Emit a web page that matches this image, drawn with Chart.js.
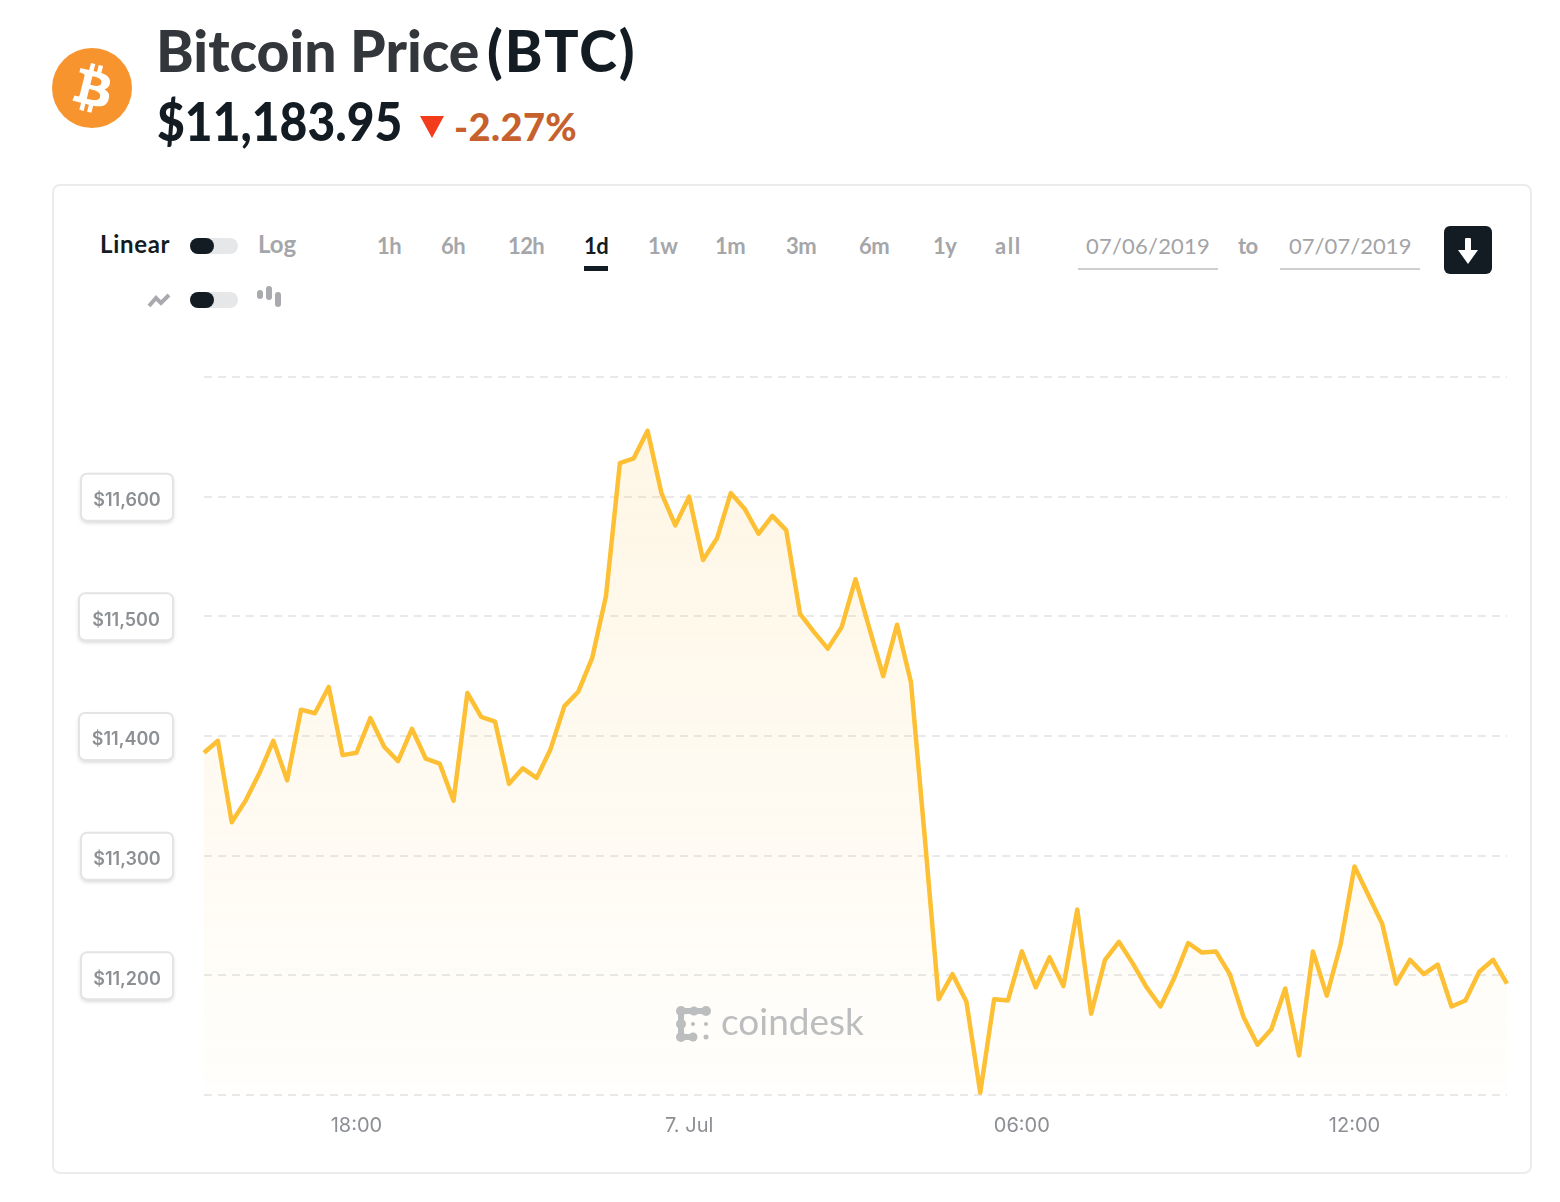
<!DOCTYPE html>
<html>
<head>
<meta charset="utf-8">
<title>Bitcoin Price (BTC)</title>
<script src="https://cdn.jsdelivr.net/npm/chart.js@4"></script>
<style>
    html, body { margin: 0; padding: 0; background: #fff; }
    body { width: 1560px; height: 1202px; position: relative; overflow: hidden; font-family: Lato, "Open Sans", sans-serif; color: #131c23; }
    .abs { position: absolute; white-space: nowrap; line-height: 1; }
    .card { position: absolute; left: 52px; top: 184px; width: 1480px; height: 990px; border: 2px solid #ececec; border-radius: 8px; box-sizing: border-box; }
    .toggle { position: absolute; width: 48px; height: 16px; border-radius: 8px; background: #e6e7e9; }
    .toggle::before { content: ''; position: absolute; left: 0; top: 0; width: 24px; height: 16px; border-radius: 8px; background: #131c23; }
    .range { font-size: 22px; font-weight: 700; color: #a5a6a9; top: 235px; letter-spacing: -0.6px; }
    .date { font-size: 22px; color: #a3a4a7; top: 235px; letter-spacing: 0.2px; }
    .rule { position: absolute; top: 268px; width: 140px; height: 2px; background: #cfcfcf; }
    #chartBox { position: absolute; left: 60px; top: 340px; width: 1460px; height: 820px; }
</style>
</head>
<body>
    <svg class="abs" style="left:52px;top:48px" width="80" height="80" viewBox="0 0 32 32">
        <circle cx="16" cy="16" r="16" fill="#f7942e"/>
        <path fill="#fff" d="M23.189 14.02c.314-2.096-1.283-3.223-3.465-3.975l.708-2.84-1.728-.43-.69 2.765c-.454-.114-.92-.22-1.385-.326l.695-2.783L15.596 6l-.708 2.839c-.376-.086-.746-.17-1.104-.26l.002-.009-2.384-.595-.46 1.846s1.283.294 1.256.312c.7.175.826.638.805 1.006l-.806 3.235c.048.012.11.03.18.057l-.183-.045-1.13 4.532c-.086.212-.303.531-.793.41.018.025-1.256-.313-1.256-.313l-.858 1.978 2.25.561c.418.105.828.215 1.231.318l-.715 2.872 1.727.43.708-2.84c.472.127.93.245 1.378.357l-.706 2.828 1.728.43.715-2.866c2.948.558 5.164.333 6.097-2.333.752-2.146-.037-3.385-1.588-4.192 1.13-.26 1.98-1.003 2.207-2.538zm-3.95 5.538c-.533 2.147-4.148.986-5.32.695l.95-3.805c1.172.293 4.929.872 4.37 3.11zm.535-5.569c-.487 1.953-3.495.96-4.47.717l.86-3.45c.975.243 4.118.696 3.61 2.733z"/>
    </svg>
    <div class="abs" style="left:156px;top:22px;font-size:57px;font-weight:900;color:#33363a">Bitcoin Price</div>
    <div class="abs" style="left:487px;top:22px;font-size:57px;font-weight:900;color:#131c23;letter-spacing:1.9px">(BTC)</div>
    <div class="abs" style="left:157px;top:94px;font-size:53px;font-weight:900;color:#131c23;transform:scaleX(0.905);transform-origin:left">$11,183.95</div>
    <svg class="abs" style="left:420px;top:116px" width="24" height="22"><polygon points="0,0 24,0 12,22" fill="#f33c1c"/></svg>
    <div class="abs" style="left:454px;top:107px;font-size:38px;font-weight:900;color:#c6602d;letter-spacing:0.4px">-2.27%</div>

    <div class="card"></div>

    <div class="abs" style="left:100px;top:232px;font-size:24px;font-weight:700;color:#131c23;letter-spacing:0.7px">Linear</div>
    <div class="toggle" style="left:190px;top:238px"></div>
    <div class="abs" style="left:258px;top:232px;font-size:24px;font-weight:700;color:#a5a6a9">Log</div>
    <svg class="abs" style="left:147px;top:292px" width="24" height="16" viewBox="0 0 24 16"><polyline points="2,14 9,6 14,11 22,3" fill="none" stroke="#a9aaad" stroke-width="4"/></svg>
    <div class="toggle" style="left:190px;top:292px"></div>
    <svg class="abs" style="left:257px;top:285px" width="24" height="22" viewBox="0 0 24 22" fill="#a9aaad">
        <rect x="0" y="5" width="6" height="9" rx="3"/><rect x="9" y="1" width="6" height="14" rx="3"/><rect x="18" y="7" width="6" height="15" rx="3"/>
    </svg>

    <div class="abs range" style="left:377px">1h</div>
    <div class="abs range" style="left:441px">6h</div>
    <div class="abs range" style="left:508px">12h</div>
    <div class="abs range" style="left:584px;color:#131c23">1d</div>
    <div class="abs" style="left:584px;top:266px;width:24px;height:5px;background:#131c23"></div>
    <div class="abs range" style="left:648px">1w</div>
    <div class="abs range" style="left:715px">1m</div>
    <div class="abs range" style="left:786px">3m</div>
    <div class="abs range" style="left:859px">6m</div>
    <div class="abs range" style="left:933px">1y</div>
    <div class="abs range" style="left:995px;letter-spacing:1.6px">all</div>
    <div class="abs date" style="left:1086px">07/06/2019</div>
    <div class="rule" style="left:1078px"></div>
    <div class="abs range" style="left:1238px">to</div>
    <div class="abs date" style="left:1289px;letter-spacing:0.05px">07/07/2019</div>
    <div class="rule" style="left:1280px"></div>
    <div class="abs" style="left:1444px;top:226px;width:48px;height:48px;border-radius:6px;background:#131c23"></div>
    <svg class="abs" style="left:1456px;top:238px" width="24" height="26" viewBox="0 0 24 26"><path fill="#fff" d="M9 2 a3 3 0 0 1 6 0 V12 H22 L12 26 L2 12 H9 Z"/></svg>

    <div id="chartBox"><canvas id="chartPrecio"></canvas></div>

    <svg class="abs" style="left:675px;top:1005px" width="38" height="38" viewBox="0 0 38 38" fill="#bcbdbe">
        <circle cx="6" cy="6" r="5"/><circle cx="19" cy="6" r="4.5"/><circle cx="31" cy="6" r="5"/>
        <circle cx="6" cy="19" r="5"/><circle cx="6" cy="32" r="5"/><circle cx="18" cy="32" r="4.5"/>
        <rect x="6" y="3" width="25" height="6"/><rect x="3" y="6" width="6" height="26"/><rect x="6" y="29" width="12" height="6"/>
        <circle cx="18" cy="19" r="2"/><circle cx="31" cy="19" r="2"/><circle cx="31" cy="32" r="2.5"/>
    </svg>
    <div class="abs" style="left:721px;top:1002px;font-size:37px;color:#bcbdbe">coindesk</div>

<script>
// cada 15 minutos, desde las 15:15 del 6 de julio
const categorias = [
    '15:15', '15:30', '15:45',
    '16:00', '16:15', '16:30', '16:45', '17:00', '17:15', '17:30', '17:45',
    '18:00', '18:15', '18:30', '18:45', '19:00', '19:15', '19:30', '19:45',
    '20:00', '20:15', '20:30', '20:45', '21:00', '21:15', '21:30', '21:45',
    '22:00', '22:15', '22:30', '22:45', '23:00', '23:15', '23:30', '23:45',
    '7. Jul', '00:15', '00:30', '00:45', '01:00', '01:15', '01:30', '01:45',
    '02:00', '02:15', '02:30', '02:45', '03:00', '03:15', '03:30', '03:45',
    '04:00', '04:15', '04:30', '04:45', '05:00', '05:15', '05:30', '05:45',
    '06:00', '06:15', '06:30', '06:45', '07:00', '07:15', '07:30', '07:45',
    '08:00', '08:15', '08:30', '08:45', '09:00', '09:15', '09:30', '09:45',
    '10:00', '10:15', '10:30', '10:45', '11:00', '11:15', '11:30', '11:45',
    '12:00', '12:15', '12:30', '12:45', '13:00', '13:15', '13:30', '13:45',
    '14:00', '14:15', '14:30', '14:45'
];
const precios = [
    11386, 11396, 11328, 11346, 11369, 11396, 11363, 11422, 11419, 11441,
    11384, 11386, 11415, 11391, 11379, 11406, 11381, 11377, 11346, 11436,
    11416, 11412, 11360, 11373, 11365, 11389, 11425, 11437, 11465, 11517,
    11628, 11632, 11655, 11603, 11576, 11600, 11547, 11565, 11603, 11590,
    11569, 11584, 11572, 11502, 11487, 11473, 11491, 11531, 11490, 11450,
    11493, 11445, 11315, 11180, 11201, 11178, 11102, 11180, 11179, 11220,
    11190, 11215, 11191, 11255, 11168, 11213, 11228, 11210, 11190, 11174,
    11198, 11227, 11219, 11220, 11201, 11165, 11142, 11155, 11189, 11133,
    11220, 11183, 11226, 11291, 11267, 11243, 11193, 11213, 11201, 11209,
    11174, 11179, 11203, 11213, 11193
];
const etiquetasX = ['18:00', '7. Jul', '06:00', '12:00'];
const etiquetasY = [11200, 11300, 11400, 11500, 11600];
const minimoY = 11100;
const maximoY = 11700;
const pasoY = 100;

function formatearPrecio(valor) {
    return '$' + valor.toLocaleString('en-US');
}

// los precios del eje van en cajas redondeadas
const cajasEje = {
    id: 'cajasEje',
    afterDraw(chart) {
        const { ctx, scales } = chart;
        ctx.save();
        etiquetasY.forEach(valor => {
            const y = scales.y.getPixelForValue(valor);
            const izquierda = (valor === 11400 || valor === 11500) ? 19 : 21;
            ctx.shadowColor = 'rgba(0, 0, 0, 0.18)';
            ctx.shadowBlur = 4;
            ctx.shadowOffsetY = 2;
            ctx.fillStyle = '#fff';
            ctx.strokeStyle = '#e4e4e4';
            ctx.lineWidth = 2;
            ctx.beginPath();
            ctx.roundRect(izquierda, y - 23, 113 - izquierda, 47, 6);
            ctx.fill();
            ctx.shadowColor = 'transparent';
            ctx.stroke();

            ctx.fillStyle = '#8c8f93';
            ctx.font = '600 18px Inter';
            ctx.textAlign = 'center';
            ctx.textBaseline = 'middle';
            ctx.fillText(formatearPrecio(valor), (izquierda + 113) / 2, y + 4);
        });
        ctx.restore();
    }
};

const contexto = document.getElementById('chartPrecio').getContext('2d');
new Chart(contexto, {
    type: 'line',
    plugins: [cajasEje],
    data: {
        labels: categorias,
        datasets: [{
            data: precios,
            borderColor: '#fdc034',
            borderWidth: 4.5,
            borderJoinStyle: 'round',
            pointRadius: 0,
            tension: 0,
            fill: 'start',
            backgroundColor(context) {
                const area = context.chart.chartArea;
                if (!area) return 'rgba(255, 190, 50, 0.1)';
                const degradado = context.chart.ctx.createLinearGradient(0, area.top, 0, area.bottom);
                degradado.addColorStop(0, 'rgba(252, 190, 60, 0.14)');
                degradado.addColorStop(1, 'rgba(252, 190, 60, 0.015)');
                return degradado;
            }
        }]
    },
    options: {
        responsive: true,
        maintainAspectRatio: false,
        animation: false,
        layout: { padding: { top: 37, right: 13, left: 0, bottom: 0 } },
        plugins: { legend: { display: false }, tooltip: { enabled: false } },
        scales: {
            x: {
                offset: false,
                afterFit(escala) { escala.height = 65; },
                grid: { display: false },
                border: { display: false },
                ticks: {
                    autoSkip: false,
                    maxRotation: 0,
                    padding: 11,
                    color: '#8c8f93',
                    font: { family: 'Inter', size: 20 },
                    callback(valor) {
                        const texto = this.getLabelForValue(valor);
                        return etiquetasX.includes(texto) ? texto : null;
                    }
                }
            },
            y: {
                min: minimoY,
                max: maximoY,
                afterFit(escala) { escala.width = 144; },
                grid: {
                    color: '#e9e9e9',
                    lineWidth: 2,
                    drawTicks: false
                },
                border: { display: false, dash: [8, 6] },
                ticks: { display: false, stepSize: pasoY }
            }
        }
    }
});
</script>
</body>
</html>
